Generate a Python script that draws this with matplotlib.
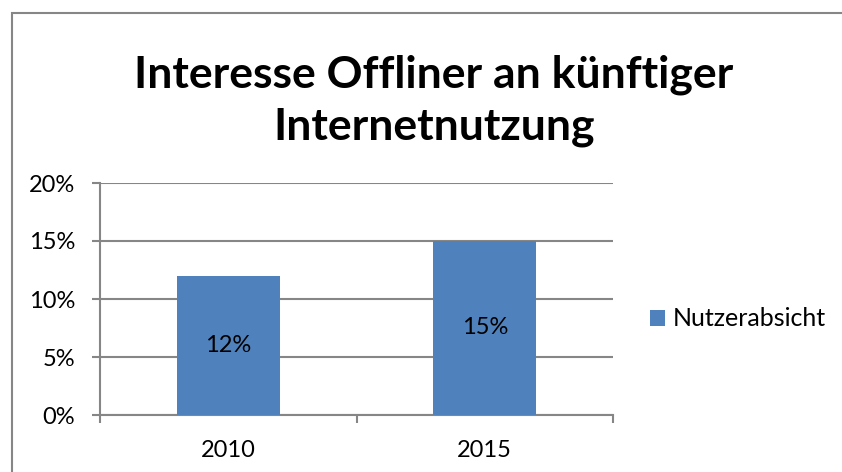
import numpy as np
import matplotlib
matplotlib.use("Agg")
import matplotlib.pyplot as plt
from matplotlib.patches import Rectangle

years = ["2010", "2015"]
nutzerabsicht = [0.12, 0.15]
series_name = "Nutzerabsicht"
title = "Interesse Offliner an künftiger\nInternetnutzung"

BLUE = "#4f81bd"
GRID = "#868686"
plt.rcParams["font.family"] = ["Lato", "DejaVu Sans"]

W, H = 842, 472
fig = plt.figure(figsize=(W / 100, H / 100), dpi=100)
# chart frame: only left and top edges fall inside the picture
fig.patches.append(Rectangle((12 / W, -0.1), 1.1, 1.1 - 13 / H,
                             transform=fig.transFigure, fill=False,
                             ec=GRID, lw=1.5))

ax = fig.add_axes([100 / W, 1 - 415 / H, (613 - 100) / W, (415 - 183) / H])
x = np.arange(len(years))
bars = ax.bar(x, nutzerabsicht, width=0.4, color=BLUE, label=series_name, zorder=3)
for b, v in zip(bars, nutzerabsicht):
    ax.text(b.get_x() + b.get_width() / 2, v / 2, f"{v:.0%}",
            ha="center", va="center", fontsize=17)

ax.set_xlim(-0.5, 1.5)
ax.set_ylim(0, 0.20)
yt = np.arange(0, 0.201, 0.05)
ax.set_yticks(yt)
ax.set_yticklabels([f"{t:.0%}" for t in yt])
ax.yaxis.grid(True, color=GRID, lw=1.5, zorder=0)
ax.set_xticks(x)
ax.set_xticklabels(years)
ax.set_xticks([-0.5, 0.5, 1.5], minor=True)
ax.tick_params(axis="x", which="major", length=0, pad=18, labelsize=17)
ax.tick_params(axis="x", which="minor", length=6, color=GRID, width=1.5)
ax.tick_params(axis="y", length=6, color=GRID, width=1.5, labelsize=17, pad=12)
for s in ("top", "right"):
    ax.spines[s].set_visible(False)
for s in ("left", "bottom"):
    ax.spines[s].set_color(GRID)
    ax.spines[s].set_linewidth(1.5)

fig.text(434 / W, 1 - 101 / H, title, ha="center", va="center",
         fontsize=32, fontweight="bold", linespacing=1.35)

ax.legend(loc="center left", bbox_to_anchor=(650 / W, 1 - 319 / H),
          bbox_transform=fig.transFigure, frameon=False, fontsize=18,
          handlelength=0.6, handleheight=0.6, handletextpad=0.3,
          borderaxespad=0, borderpad=0)

fig.savefig("out.png", dpi=100)
